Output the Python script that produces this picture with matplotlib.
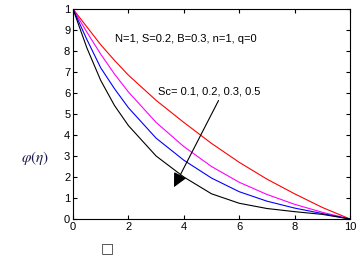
import matplotlib
matplotlib.use('Agg')
import matplotlib.pyplot as plt

eta = [0, 0.5, 1, 1.5, 2, 3, 4, 5, 6, 7, 8, 9, 10]
phi_sc01 = [1.0, 0.915, 0.83, 0.755, 0.685, 0.565, 0.46, 0.36, 0.27, 0.19, 0.12, 0.055, 0.0]
phi_sc02 = [1.0, 0.89, 0.785, 0.69, 0.605, 0.46, 0.345, 0.25, 0.175, 0.117, 0.07, 0.032, 0.0]
phi_sc03 = [1.0, 0.855, 0.72, 0.62, 0.53, 0.385, 0.28, 0.195, 0.13, 0.085, 0.052, 0.026, 0.0]
phi_sc05 = [1.0, 0.815, 0.66, 0.54, 0.445, 0.30, 0.20, 0.12, 0.075, 0.05, 0.035, 0.022, 0.0]

xticks = [0, 2, 4, 6, 8, 10]
yticks = [0, 0.1, 0.2, 0.3, 0.4, 0.5, 0.6, 0.7, 0.8, 0.9, 1.0]
ytick_labels = ['0', '1', '2', '3', '4', '5', '6', '7', '8', '9', '1']

plt.rcParams['font.family'] = ['Liberation Sans', 'DejaVu Sans']
plt.rcParams['mathtext.fontset'] = 'stix'

fig = plt.figure(figsize=(3.63, 2.60), dpi=100)
ax = fig.add_axes([73/363, 1-219/260, 277/363, 210/260])

for vals, col in zip([phi_sc01, phi_sc02, phi_sc03, phi_sc05], ['red', 'magenta', 'blue', 'black']):
	ax.plot(eta, vals, color=col, lw=0.8)

ax.set_xlim(0, 10)
ax.set_ylim(0, 1)
ax.set_xticks(xticks)
ax.set_yticks(yticks)
ax.set_yticklabels(ytick_labels)
ax.tick_params(direction='in', length=3, width=0.8, labelsize=8, top=True, right=True, pad=2)
for s in ax.spines.values():
	s.set_linewidth(0.8)

ax.text(1.52, 0.857, 'N=1, S=0.2, B=0.3, n=1, q=0', fontsize=8, va='center')
ax.text(3.07, 0.605, 'Sc= 0.1, 0.2, 0.3, 0.5', fontsize=8, va='center')
ax.annotate('', xy=(3.6, 0.14), xytext=(5.3, 0.576),
	arrowprops=dict(arrowstyle='-|>,head_length=0.6,head_width=0.3', color='black', lw=0.8, mutation_scale=14))

fig.text(35/363, 1-158/260, r'$\varphi(\eta)$', fontsize=11, color='#1a1a4a', ha='center', va='center')
fig.text(107/363, 1-248/260, '\u25a1', fontsize=10, color='#333333', ha='center', va='center',
	family='DejaVu Sans')

fig.savefig('out.png', dpi=100)
